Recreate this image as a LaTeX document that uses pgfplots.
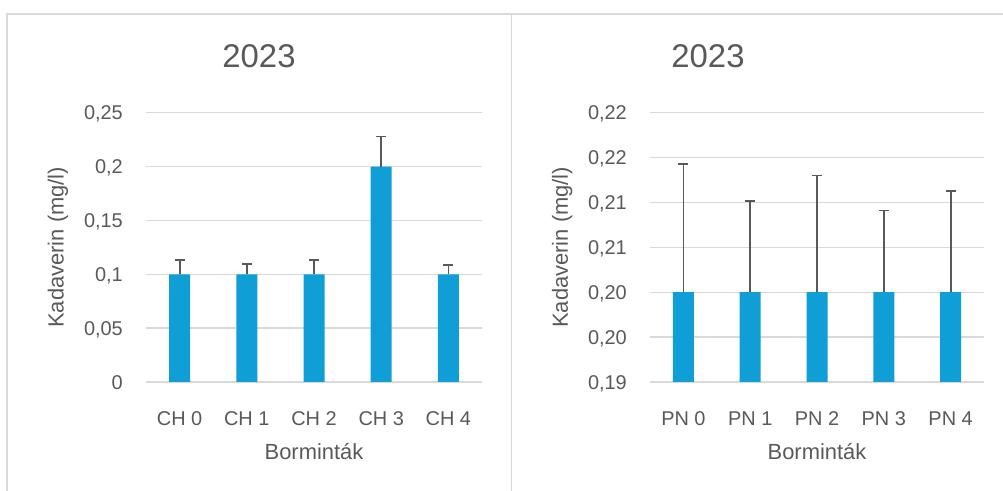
\documentclass[border=0pt]{standalone}
\usepackage{fontspec}
\setmainfont{Liberation Sans}
\usepackage{pgfplots}
\pgfplotsset{compat=1.18}
\definecolor{barblue}{RGB}{15,158,213}
\definecolor{txt}{RGB}{89,89,89}
\definecolor{gridc}{RGB}{217,217,217}
\pgfplotsset{mystyle/.style={
  scale only axis, width=336bp, height=269.3bp,
  ybar, bar width=21bp,
  xmin=-0.5, xmax=4.5, xtick={0,1,2,3,4},
  axis line style={draw=none}, tick style={draw=none},
  ymajorgrids, major grid style={draw=gridc, line width=1.3bp},
  ticklabel style={font=\fontsize{20}{24}\selectfont, text=txt, inner sep=0pt},
  xticklabel style={anchor=base, yshift=-39bp},
  yticklabel style={anchor=base east, xshift=-23bp, yshift=-7bp},
  label style={font=\fontsize{22}{26}\selectfont, text=txt},
  xlabel=Borminták, ylabel={Kadaverin (mg/l)},
  xlabel style={at={(axis description cs:0.5,0)}, anchor=center, yshift=-70bp},
  ylabel style={at={(axis description cs:-0.262,0.5)}, anchor=center},
  title style={font=\fontsize{33}{40}\selectfont, text=txt, at={(axis description cs:0.5,1)}, anchor=base, xshift=-55bp, yshift=39bp},
  title=2023,
}}
\begin{document}
\begin{tikzpicture}
\useasboundingbox (0bp,0bp) rectangle (1003bp,491bp);
\draw[gridc, line width=1.3bp] (7bp,0bp) -- (7bp,477bp) -- (1003bp,477bp);
\draw[gridc, line width=1.3bp] (511.5bp,0bp) -- (511.5bp,477bp);
\begin{axis}[mystyle, at={(146bp,109bp)}, anchor=south west,
  ymin=0, ymax=0.25, ytick={0,0.05,0.1,0.15,0.2,0.25},
  yticklabels={0,{0,05},{0,1},{0,15},{0,2},{0,25}},
  xticklabels={CH 0,CH 1,CH 2,CH 3,CH 4}]
\addplot[fill=barblue, draw=none,
  error bars/.cd, y dir=plus, y explicit,
  error bar style={draw=txt, line width=1.8bp},
  error mark options={rotate=90, draw=txt, line width=1.8bp, mark size=5bp}]
  coordinates {(0,0.1) +- (0,0.0132) (1,0.1) +- (0,0.0092) (2,0.1) +- (0,0.0135) (3,0.2) +- (0,0.0279) (4,0.1) +- (0,0.0085)};
\end{axis}
\begin{axis}[mystyle, at={(650bp,109bp)}, anchor=south west, width=334bp,
  ymin=0.19, ymax=0.22, ytick={0.19,0.195,0.2,0.205,0.21,0.215,0.22},
  yticklabels={{0,19},{0,20},{0,20},{0,21},{0,21},{0,22},{0,22}},
  ylabel style={at={(axis description cs:-0.263,0.5)}, anchor=center},
  title style={xshift=-54bp},
  xticklabels={PN 0,PN 1,PN 2,PN 3,PN 4}]
\addplot[fill=barblue, draw=none,
  error bars/.cd, y dir=plus, y explicit,
  error bar style={draw=txt, line width=1.8bp},
  error mark options={rotate=90, draw=txt, line width=1.8bp, mark size=5bp}]
  coordinates {(0,0.2) +- (0,0.0143) (1,0.2) +- (0,0.0102) (2,0.2) +- (0,0.0130) (3,0.2) +- (0,0.0091) (4,0.2) +- (0,0.0113)};
\end{axis}
\end{tikzpicture}
\end{document}
